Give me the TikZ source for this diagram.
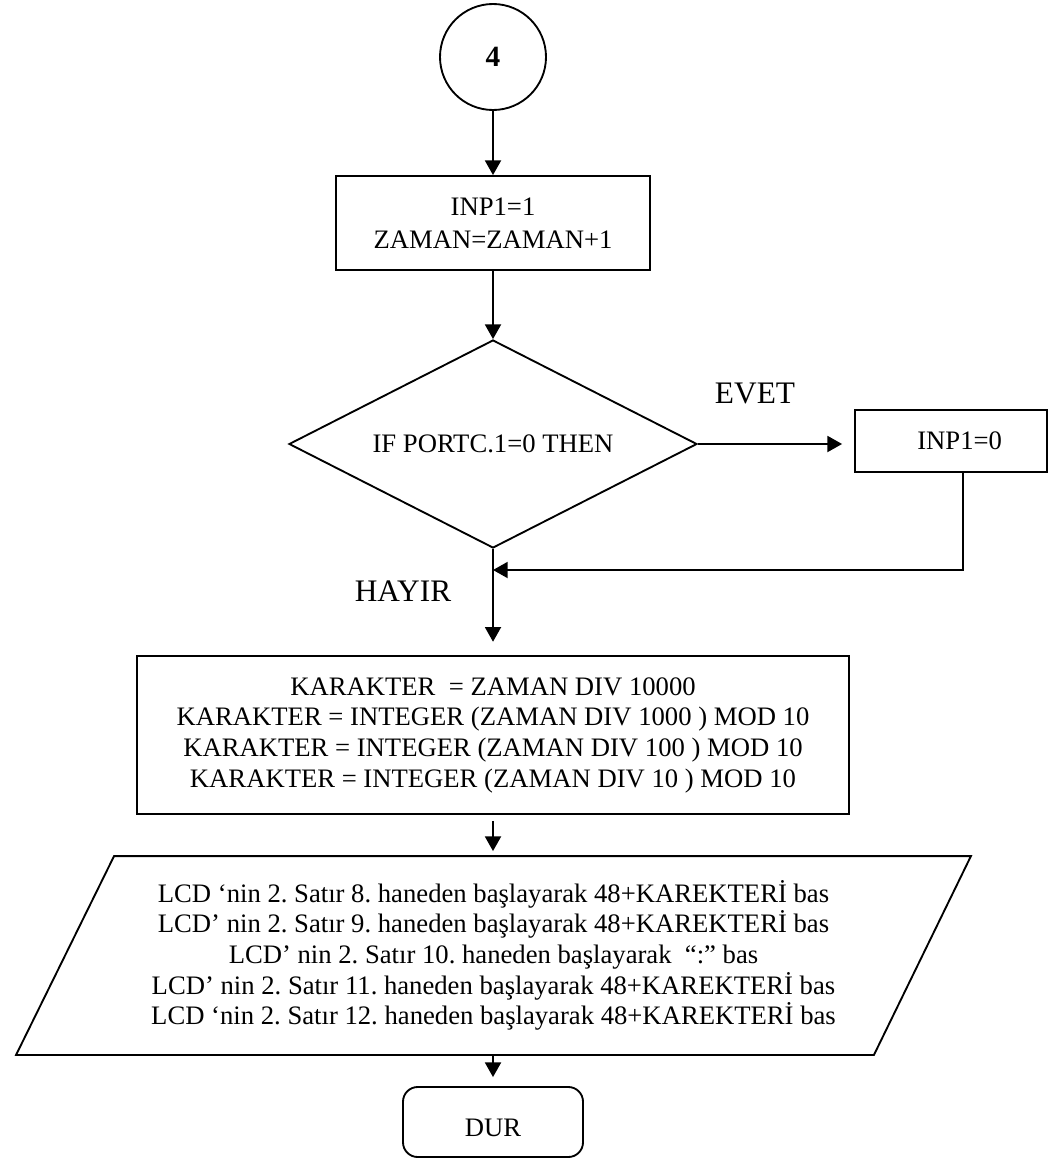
\documentclass[tikz,border=0pt]{standalone}
\usepackage{fontspec}
\setmainfont{Liberation Serif}
\usetikzlibrary{arrows.meta,shapes.geometric}
\begin{document}
\frenchspacing
\begin{tikzpicture}[x=0.75pt,y=-0.75pt,
  line width=1.4pt,
  arr/.style={-{Triangle[length=11pt,width=12pt]}},
  txt/.style={font=\fontsize{20}{23}\selectfont, align=center},
  boxs/.style={draw, rectangle, inner sep=0pt, txt},
  lbl/.style={font=\fontsize{23.5}{26}\selectfont, inner sep=0pt}
]
\useasboundingbox (0,0) rectangle (1050,1159);
% nodes
\node[draw, circle, minimum size=79.5pt, inner sep=0pt, font=\fontsize{22}{24}\selectfont\bfseries] (c4) at (493,57) {4};
\node[boxs, minimum width=235.5pt, minimum height=70.5pt, font=\fontsize{20}{25}\selectfont] (b1) at (493,223) {INP1=1\\ZAMAN=ZAMAN+1};
\node[draw, diamond, shape aspect=2, minimum width=306pt, minimum height=156pt, inner sep=0pt, txt] (dia) at (493,444) {IF PORTC.1=0 THEN};
\node[boxs, minimum width=144pt, minimum height=46.5pt] (inp0) at (951,441) {\hspace*{13pt}INP1=0};
\node[boxs, minimum width=534pt, minimum height=118.5pt] (b2) at (493,735) {KARAKTER\ \ = ZAMAN DIV 10000\\KARAKTER = INTEGER (ZAMAN DIV 1000 ) MOD 10\\KARAKTER = INTEGER (ZAMAN DIV 100 ) MOD 10\\KARAKTER = INTEGER (ZAMAN DIV 10 ) MOD 10};
\node[txt, inner sep=0pt, minimum width=714.75pt, minimum height=147.75pt] (lcd) at (493.5,955.5) {LCD ‘nin 2. Satır 8. haneden başlayarak 48+KAREKTERİ bas\\LCD’ nin 2. Satır 9. haneden başlayarak 48+KAREKTERİ bas\\LCD’ nin 2. Satır 10. haneden başlayarak\ \ “:” bas\\LCD’ nin 2. Satır 11. haneden başlayarak 48+KAREKTERİ bas\\LCD ‘nin 2. Satır 12. haneden başlayarak 48+KAREKTERİ bas};
\draw ([xshift=73.5pt]lcd.north west) -- (lcd.north east) -- ([xshift=-72.75pt]lcd.south east) -- (lcd.south west) -- cycle;
\node[draw, rectangle, rounded corners=11pt, minimum width=135pt, minimum height=52.5pt] (dur) at (493,1122) {};
\node[txt, inner sep=0pt] (durt) at ([yshift=-4.5pt]dur.center) {DUR};
\node[lbl] (evet) at (755,393) {EVET};
\node[lbl] (hayir) at (403,591) {HAYIR};
\coordinate (m) at (493,570);
% connectors
\draw[arr] (c4) -- (b1);
\draw[arr] (b1) -- (dia);
\draw[arr, shorten >=9pt] (dia.east) -- (dia.east -| inp0.west);
\draw[arr] ([xshift=9pt]inp0.south) |- (m);
\draw[arr, shorten >=10pt] (dia.south) -- (b2);
\draw[arr, shorten <=4.5pt, shorten >=3.75pt] (b2.south) -- (b2.south |- lcd.north);
\draw[arr, shorten >=6.75pt] (lcd.south -| dur.north) -- (dur.north);
\end{tikzpicture}
\end{document}
